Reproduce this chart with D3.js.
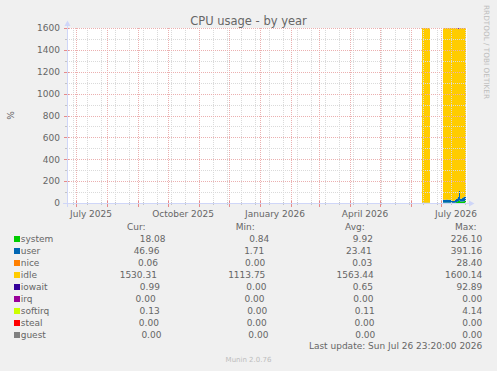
<!DOCTYPE html>
<html>
<head>
<meta charset="utf-8">
<script src="https://cdn.jsdelivr.net/npm/d3@7"></script>
<style>
  body { margin: 0; background: #f0f0f0; }
  svg text { font-family: "DejaVu Sans", sans-serif; fill: #666; white-space: pre; }
</style>
</head>
<body>
<div id="chart"></div>
<script>
// one value per day (daily RRA), only days that hold data
const days = [
  "2026-06-12", "2026-06-13", "2026-06-14", "2026-06-15", "2026-06-16", "2026-06-17", "2026-06-18", "2026-06-19",
  "2026-07-03", "2026-07-04", "2026-07-05", "2026-07-06", "2026-07-07", "2026-07-08", "2026-07-09", "2026-07-10",
  "2026-07-11", "2026-07-12", "2026-07-13", "2026-07-14", "2026-07-15", "2026-07-16", "2026-07-17", "2026-07-18",
  "2026-07-19", "2026-07-20", "2026-07-21", "2026-07-22", "2026-07-23", "2026-07-24", "2026-07-25"
];

const systemVals = [0.9, 0.88, 0.86, 0.84, 0.9, 0.95, 0.87, 0.92,
  3.4, 3.1, 2.9, 3.3, 3.5, 3.0, 2.8, 3.2, 2.7, 2.1, 2.0, 2.3, 4.8, 8.4, 11.1, 18.7, 23.9, 14.2, 13.1, 13.8, 15.2, 16.9, 18.08];
const userVals = [1.9, 1.8, 1.75, 1.71, 1.85, 2.0, 1.9, 1.8,
  27.1, 26.4, 25.8, 28.0, 27.6, 26.2, 25.5, 27.3, 24.9, 17.8, 16.9, 18.3, 25.6, 29.1, 31.4, 38.5, 86.3, 25.7, 24.8, 31.5, 36.9, 41.2, 46.96];
const niceVals = [0, 0, 0, 0, 0, 0, 0, 0,
  0.04, 0.03, 0.05, 0.02, 0.04, 0.03, 0.06, 0.02, 0.03, 0.01, 0.02, 0.03, 0.05, 0.04, 0.08, 0.12, 0.41, 0.05, 0.04, 0.06, 0.03, 0.05, 0.06];
const idleVals = [1596.9, 1597.1, 1597.1, 1597.1, 1597.0, 1596.7, 1596.9, 1597.0,
  1568.7, 1569.9, 1570.5, 1568.0, 1568.1, 1569.9, 1570.9, 1568.8, 1571.9, 1579.6, 1580.7, 1578.8, 1568.5, 1561.1, 1555.7, 1535.6, 1480.1, 1558.8, 1561.1, 1553.6, 1546.7, 1540.9, 1533.8];
const iowaitVals = [0.3, 0.2, 0.25, 0.3, 0.2, 0.35, 0.3, 0.25,
  0.6, 0.5, 0.7, 0.6, 0.5, 0.8, 0.6, 0.5, 0.7, 0.4, 0.3, 0.5, 0.9, 1.2, 1.6, 6.8, 8.9, 1.1, 0.8, 0.9, 1.0, 0.8, 0.99];
const irqVals = [0, 0, 0, 0, 0, 0, 0, 0,
  0, 0, 0, 0, 0, 0, 0, 0, 0, 0, 0, 0, 0, 0, 0, 0, 0, 0, 0, 0, 0, 0, 0];
const softirqVals = [0.02, 0.02, 0.02, 0.02, 0.02, 0.02, 0.02, 0.02,
  0.12, 0.11, 0.1, 0.12, 0.13, 0.11, 0.1, 0.12, 0.11, 0.08, 0.07, 0.09, 0.12, 0.14, 0.16, 0.24, 0.38, 0.15, 0.13, 0.14, 0.13, 0.12, 0.13];
const stealVals = [0, 0, 0, 0, 0, 0, 0, 0,
  0, 0, 0, 0, 0, 0, 0, 0, 0, 0, 0, 0, 0, 0, 0, 0, 0, 0, 0, 0, 0, 0, 0];
const guestVals = [0, 0, 0, 0, 0, 0, 0, 0,
  0, 0, 0, 0, 0, 0, 0, 0, 0, 0, 0, 0, 0, 0, 0, 0, 0, 0, 0, 0, 0, 0, 0];

const fields = ["system", "user", "nice", "idle", "iowait", "irq", "softirq", "steal", "guest"];
const curVals = [18.08, 46.96, 0.06, 1530.31, 0.99, 0.00, 0.13, 0.00, 0.00];
const minVals = [0.84, 1.71, 0.00, 1113.75, 0.00, 0.00, 0.00, 0.00, 0.00];
const avgVals = [9.92, 23.41, 0.03, 1563.44, 0.65, 0.00, 0.11, 0.00, 0.00];
const maxVals = [226.10, 391.16, 28.40, 1600.14, 92.89, 0.00, 4.14, 0.00, 0.00];

const yTicks = [0, 200, 400, 600, 800, 1000, 1200, 1400, 1600];
const yMinorTicks = [100, 300, 500, 700, 900, 1100, 1300, 1500];
const endTime = new Date("2026-07-26T23:20:00Z");
const lastUpdate = "Last update: Sun Jul 26 23:20:00 2026";

const colors = ["#00cc00", "#0066b3", "#ff8000", "#ffcc00", "#330099", "#990099", "#ccff00", "#ff0000", "#808080"];

let width = 497, height = 371;
let plot = { left: 67, right: 467, top: 28, bottom: 203 };

let svg = d3.select('#chart')
  .append('svg')
  .attr('width', width)
  .attr('height', height)
  .attr('xml:space', 'preserve');

svg.append('rect')
  .attr('width', width).attr('height', height)
  .attr('fill', '#f0f0f0');

let startTime = d3.utcDay.offset(endTime, -400);

let xscale = d3.scaleUtc()
  .domain([startTime, endTime])
  .range([plot.left, plot.right]);

let yscale = d3.scaleLinear()
  .domain([0, 1600])
  .range([plot.bottom, plot.top]);

svg.append('rect')
  .attr('x', plot.left).attr('y', plot.top)
  .attr('width', plot.right - plot.left).attr('height', plot.bottom - plot.top)
  .attr('fill', '#ffffff');

svg.append('clipPath').attr('id', 'clip')
  .append('rect')
  .attr('x', plot.left).attr('y', plot.top)
  .attr('width', plot.right - plot.left).attr('height', plot.bottom - plot.top);

// stacked data, one column per day
const columns = [systemVals, userVals, niceVals, idleVals, iowaitVals, irqVals, softirqVals, stealVals, guestVals];
const rows = days.map(function(d, i) {
  let row = { date: new Date(d + "T00:00:00Z") };
  fields.forEach((f, k) => row[f] = columns[k][i]);
  return row;
});

const layers = d3.stack().keys(fields)(rows);

svg.append('g')
  .attr('clip-path', 'url(#clip)')
  .selectAll('g')
  .data(layers)
  .join('g')
  .attr('fill', (d, i) => colors[i])
  .selectAll('rect')
  .data(d => d.filter(p => p[1] > p[0]))
  .join('rect')
  .attr('x', p => Math.round(xscale(p.data.date)))
  .attr('width', p => Math.round(xscale(d3.utcDay.offset(p.data.date, 1))) - Math.round(xscale(p.data.date)))
  .attr('y', p => yscale(p[1]))
  .attr('height', p => yscale(p[0]) - yscale(p[1]));

// grid
const minorGrid = '#dadada', majorGrid = '#ebb0b0';
let grid = svg.append('g').attr('shape-rendering', 'crispEdges').attr('stroke-dasharray', '1,1');

const weekTicks = d3.utcSaturday.range(startTime, endTime, 2);
const monthTicks = d3.utcMonth.range(startTime, endTime);

grid.selectAll('.vminor').data(weekTicks).join('line')
  .attr('x1', d => Math.round(xscale(d)) + 0.5).attr('x2', d => Math.round(xscale(d)) + 0.5)
  .attr('y1', plot.top).attr('y2', plot.bottom)
  .attr('stroke', minorGrid);

grid.selectAll('.hminor').data(yMinorTicks).join('line')
  .attr('x1', plot.left).attr('x2', plot.right)
  .attr('y1', d => Math.round(yscale(d)) + 0.5).attr('y2', d => Math.round(yscale(d)) + 0.5)
  .attr('stroke', minorGrid);

grid.selectAll('.vmajor').data(monthTicks).join('line')
  .attr('x1', d => Math.round(xscale(d)) + 0.5).attr('x2', d => Math.round(xscale(d)) + 0.5)
  .attr('y1', plot.top).attr('y2', plot.bottom)
  .attr('stroke', majorGrid);

grid.selectAll('.hmajor').data(yTicks).join('line')
  .attr('x1', plot.left).attr('x2', plot.right)
  .attr('y1', d => Math.round(yscale(d)) + 0.5).attr('y2', d => Math.round(yscale(d)) + 0.5)
  .attr('stroke', majorGrid);

// small ticks on the axes
let ticks = svg.append('g').attr('shape-rendering', 'crispEdges');
ticks.selectAll('.xt1').data(weekTicks).join('line')
  .attr('x1', d => Math.round(xscale(d)) + 0.5).attr('x2', d => Math.round(xscale(d)) + 0.5)
  .attr('y1', plot.bottom - 1).attr('y2', plot.bottom + 2).attr('stroke', '#c4c4c4');
ticks.selectAll('.xt2').data(monthTicks).join('line')
  .attr('x1', d => Math.round(xscale(d)) + 0.5).attr('x2', d => Math.round(xscale(d)) + 0.5)
  .attr('y1', plot.bottom - 2).attr('y2', plot.bottom + 4).attr('stroke', '#e68a8a');
ticks.selectAll('.yt1').data(yMinorTicks).join('line')
  .attr('x1', plot.left - 2).attr('x2', plot.left + 1)
  .attr('y1', d => Math.round(yscale(d)) + 0.5).attr('y2', d => Math.round(yscale(d)) + 0.5)
  .attr('stroke', '#c4c4c4');
ticks.selectAll('.yt2').data(yTicks).join('line')
  .attr('x1', plot.left - 3).attr('x2', plot.left + 2)
  .attr('y1', d => Math.round(yscale(d)) + 0.5).attr('y2', d => Math.round(yscale(d)) + 0.5)
  .attr('stroke', '#e68a8a');

// axes with arrows
const axisColor = '#cfd6f8';
svg.append('line')
  .attr('x1', plot.left - 4).attr('x2', plot.right + 3)
  .attr('y1', plot.bottom + 0.5).attr('y2', plot.bottom + 0.5)
  .attr('stroke', axisColor);
svg.append('line')
  .attr('x1', plot.left + 0.5).attr('x2', plot.left + 0.5)
  .attr('y1', plot.bottom + 4).attr('y2', plot.top - 3)
  .attr('stroke', axisColor);
svg.append('path')
  .attr('d', `M${plot.right + 2},${plot.bottom - 2.5}L${plot.right + 7.5},${plot.bottom + 0.5}L${plot.right + 2},${plot.bottom + 3.5}Z`)
  .attr('fill', axisColor);
svg.append('path')
  .attr('d', `M${plot.left - 2.5},${plot.top - 2}L${plot.left + 0.5},${plot.top - 7.5}L${plot.left + 3.5},${plot.top - 2}Z`)
  .attr('fill', axisColor);

// tick labels
svg.append('g').selectAll('text').data(yTicks).join('text')
  .attr('x', plot.left - 7)
  .attr('y', d => yscale(d) + 3.3)
  .attr('text-anchor', 'end')
  .style('font-size', '9px')
  .text(d => d);

const labelMonths = d3.utcMonth.every(3).range(startTime, endTime);
const fmtMonth = d3.utcFormat('%B %Y');
svg.append('g').selectAll('text').data(labelMonths).join('text')
  .attr('x', d => xscale(d3.utcDay.offset(d, 15)))
  .attr('y', plot.bottom + 13.5)
  .attr('text-anchor', 'middle')
  .style('font-size', '9px')
  .text(d => fmtMonth(d));

// title, axis label, watermarks
svg.append('text')
  .attr('x', width / 2).attr('y', 25)
  .attr('text-anchor', 'middle')
  .style('font-size', '11.5px')
  .text('CPU usage - by year');

svg.append('text')
  .attr('transform', `translate(13.5,${(plot.top + plot.bottom) / 2}) rotate(-90)`)
  .attr('text-anchor', 'middle')
  .style('font-size', '9px')
  .text('%');

svg.append('text')
  .attr('transform', 'translate(484.3,5) rotate(90)')
  .style('font-size', '7.3px')
  .style('fill', '#bdbdbd')
  .text('RRDTOOL / TOBI OETIKER');

svg.append('text')
  .attr('x', width / 2).attr('y', 361.5)
  .attr('text-anchor', 'middle')
  .style('font-size', '7px')
  .style('fill', '#bdbdbd')
  .text('Munin 2.0.76');

// legend, justified like rrdtool's \j
const legLeft = 14, legRight = 482.3, boxW = 6.7, lineH = 12, legTop = 230.3;
let measurer = svg.append('text').style('font-size', '9px').attr('opacity', 0);
function textWidth(s) {
  measurer.text(s);
  return measurer.node().getComputedTextLength();
}

function justifyRow(items, y, color) {
  let widths = items.map((s, i) => textWidth(s) + (i === 0 && color ? boxW : 0));
  let glue = (legRight - legLeft - d3.sum(widths)) / (items.length - 1);
  let x = legLeft;
  items.forEach(function(s, i) {
    let tx = x;
    if (i === 0 && color) {
      svg.append('rect')
        .attr('x', x).attr('y', y - 6.3)
        .attr('width', 6).attr('height', 6)
        .attr('fill', color);
      tx = x + boxW;
    }
    svg.append('text')
      .attr('x', tx).attr('y', y)
      .style('font-size', '9px')
      .text(s);
    x += widths[i] + glue;
  });
}

const fmt = d3.format('6.2f');
justifyRow(['        ', 'Cur:', 'Min:', 'Avg:', 'Max:  '], legTop, null);
fields.forEach(function(f, i) {
  justifyRow([f.padEnd(8), fmt(curVals[i]), fmt(minVals[i]), fmt(avgVals[i]), fmt(maxVals[i])],
    legTop + lineH * (i + 1), colors[i]);
});

svg.append('text')
  .attr('x', legRight).attr('y', legTop + lineH * 10 - 1)
  .attr('text-anchor', 'end')
  .style('font-size', '9px')
  .text(lastUpdate);

measurer.remove();
</script>
</body>
</html>
